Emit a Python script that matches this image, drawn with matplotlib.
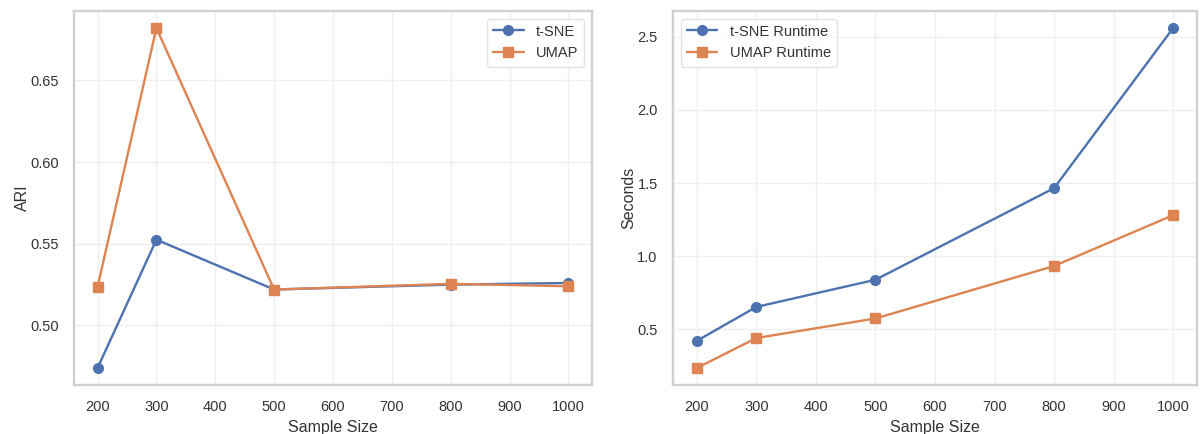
import matplotlib
matplotlib.use("Agg")
import matplotlib.pyplot as plt
import seaborn as sns

sns.set_theme(style="whitegrid")
plt.rcParams["font.family"] = ["Liberation Sans", "DejaVu Sans"]

sample_sizes = [200, 300, 500, 800, 1000]
ari_tsne = [0.474, 0.5525, 0.522, 0.525, 0.526]
ari_umap = [0.5235, 0.682, 0.522, 0.5255, 0.524]
runtime_tsne = [0.42, 0.652, 0.838, 1.465, 2.561]
runtime_umap = [0.234, 0.439, 0.573, 0.932, 1.28]

blue = "#4C72B0"
orange = "#DD8452"

fig = plt.figure(figsize=(12, 4.34), dpi=100)
ax1 = fig.add_axes([74 / 1200, 1 - 385 / 434, 518 / 1200, 374 / 434])
ax2 = fig.add_axes([673 / 1200, 1 - 385 / 434, 524 / 1200, 374 / 434])

line_kw = dict(linewidth=1.7, markersize=7)

ax1.plot(sample_sizes, ari_tsne, marker="o", color=blue, label="t-SNE", **line_kw)
ax1.plot(sample_sizes, ari_umap, marker="s", color=orange, label="UMAP", **line_kw)
ax1.set_xlabel("Sample Size")
ax1.set_ylabel("ARI", labelpad=0)
ax1.set_yticks([0.50, 0.55, 0.60, 0.65])
ax1.legend(loc="upper right")

ax2.plot(sample_sizes, runtime_tsne, marker="o", color=blue, label="t-SNE Runtime", **line_kw)
ax2.plot(sample_sizes, runtime_umap, marker="s", color=orange, label="UMAP Runtime", **line_kw)
ax2.set_xlabel("Sample Size")
ax2.set_ylabel("Seconds", labelpad=1)
ax2.set_yticks([0.5, 1.0, 1.5, 2.0, 2.5])
ax2.legend(loc="upper left")

for ax in (ax1, ax2):
    ax.set_xticks(range(200, 1001, 100))
    ax.grid(True, color="#efefef", linewidth=1.0)
    ax.tick_params(labelsize=10.5, colors="#333333", pad=5)
    ax.xaxis.label.set_size(11.5)
    ax.yaxis.label.set_size(11.5)
    ax.xaxis.label.set_color("#333333")
    ax.yaxis.label.set_color("#333333")
    for sp in ax.spines.values():
        sp.set_color("#d0d0d0")
        sp.set_linewidth(1.7)
    leg = ax.get_legend()
    leg.get_frame().set_edgecolor("#dddddd")
    for t in leg.get_texts():
        t.set_fontsize(10.5)
        t.set_color("#333333")

fig.savefig("out.png", dpi=100)
